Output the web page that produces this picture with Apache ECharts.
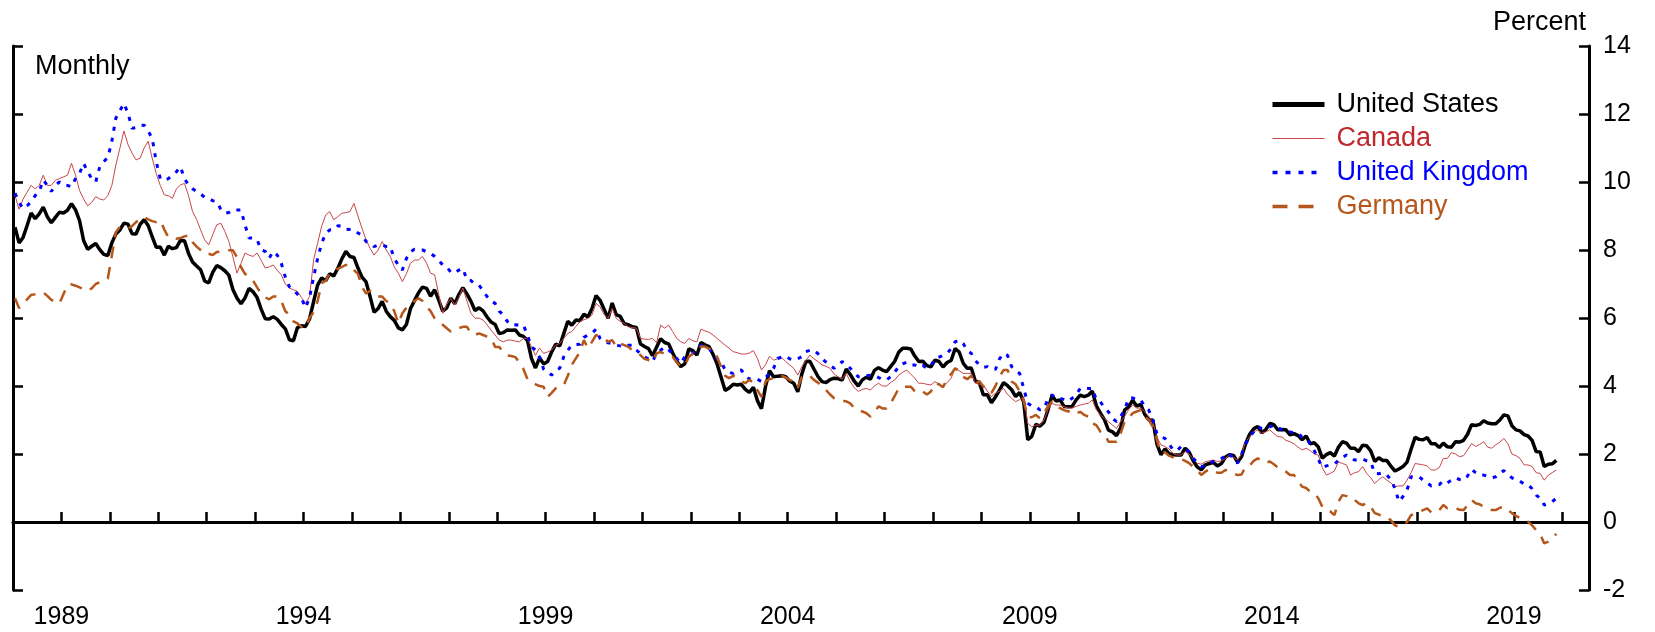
<!DOCTYPE html>
<html>
<head>
<meta charset="utf-8">
<script src="https://cdn.jsdelivr.net/npm/echarts@6/dist/echarts.min.js"></script>
<style>
  html, body { margin: 0; padding: 0; background: #fff; }
  #chart { width: 1655px; height: 632px; }
</style>
</head>
<body>
<div id="chart"></div>
<script>
// Monthly series, Jan 1988 .. Nov 2019
const startYear = 1988;
const yearLabels = [1989, 1994, 1999, 2004, 2009, 2014, 2019];
const yTicks = [-2, 0, 2, 4, 6, 8, 10, 12, 14];

const us = [
  8.67, 8.21, 8.37, 8.72, 9.09, 8.92, 9.06, 9.26, 8.98, 8.80, 8.96, 9.11,
  9.09, 9.17, 9.36, 9.18, 8.86, 8.28, 8.02, 8.11, 8.19, 8.01, 7.87, 7.84,
  8.21, 8.47, 8.59, 8.79, 8.76, 8.48, 8.47, 8.75, 8.89, 8.72, 8.39, 8.08,
  8.09, 7.85, 8.11, 8.04, 8.07, 8.28, 8.27, 7.90, 7.65, 7.53, 7.42, 7.09,
  7.03, 7.34, 7.54, 7.48, 7.39, 7.26, 6.84, 6.59, 6.42, 6.59, 6.87, 6.77,
  6.60, 6.26, 5.98, 5.97, 6.04, 5.96, 5.81, 5.68, 5.36, 5.33, 5.72, 5.77,
  5.75, 5.97, 6.48, 6.97, 7.18, 7.10, 7.30, 7.24, 7.46, 7.74, 7.96, 7.81,
  7.78, 7.47, 7.20, 7.06, 6.63, 6.17, 6.28, 6.49, 6.20, 6.04, 5.93, 5.71,
  5.65, 5.81, 6.27, 6.51, 6.74, 6.91, 6.87, 6.64, 6.83, 6.53, 6.20, 6.30,
  6.58, 6.42, 6.69, 6.89, 6.71, 6.49, 6.22, 6.30, 6.21, 6.03, 5.88, 5.81,
  5.54, 5.57, 5.65, 5.64, 5.65, 5.50, 5.46, 5.34, 4.81, 4.53, 4.83, 4.65,
  4.72, 5.00, 5.23, 5.18, 5.54, 5.90, 5.79, 5.94, 5.92, 6.11, 6.03, 6.28,
  6.66, 6.52, 6.26, 5.99, 6.44, 6.10, 6.05, 5.83, 5.80, 5.74, 5.72, 5.24,
  5.16, 5.10, 4.89, 5.14, 5.39, 5.28, 5.24, 4.97, 4.73, 4.57, 4.65, 5.09,
  5.04, 4.91, 5.28, 5.21, 5.16, 4.93, 4.65, 4.26, 3.87, 3.94, 4.05, 4.03,
  4.05, 3.90, 3.81, 3.96, 3.57, 3.33, 3.98, 4.45, 4.27, 4.29, 4.30, 4.27,
  4.15, 4.08, 3.83, 4.35, 4.72, 4.73, 4.50, 4.28, 4.13, 4.10, 4.19, 4.23,
  4.22, 4.17, 4.50, 4.34, 4.14, 4.00, 4.18, 4.26, 4.20, 4.46, 4.54, 4.47,
  4.42, 4.57, 4.72, 4.99, 5.11, 5.11, 5.09, 4.88, 4.72, 4.73, 4.60, 4.56,
  4.76, 4.72, 4.56, 4.69, 4.75, 5.10, 5.00, 4.67, 4.52, 4.53, 4.15, 4.10,
  3.74, 3.74, 3.51, 3.68, 3.88, 4.10, 4.01, 3.89, 3.69, 3.81, 3.53, 2.42,
  2.52, 2.87, 2.82, 2.93, 3.29, 3.72, 3.56, 3.59, 3.40, 3.39, 3.40, 3.59,
  3.73, 3.69, 3.73, 3.85, 3.42, 3.20, 3.01, 2.70, 2.65, 2.54, 2.76, 3.29,
  3.39, 3.58, 3.41, 3.46, 3.17, 3.00, 3.00, 2.30, 1.98, 2.15, 2.01, 1.98,
  1.97, 1.97, 2.17, 2.05, 1.80, 1.62, 1.53, 1.68, 1.72, 1.75, 1.65, 1.72,
  1.91, 1.98, 1.96, 1.76, 1.93, 2.30, 2.58, 2.74, 2.81, 2.62, 2.72, 2.90,
  2.86, 2.71, 2.72, 2.71, 2.56, 2.60, 2.54, 2.42, 2.53, 2.30, 2.33, 2.21,
  1.88, 1.98, 2.04, 1.94, 2.20, 2.36, 2.32, 2.17, 2.17, 2.07, 2.26, 2.24,
  2.09, 1.78, 1.89, 1.81, 1.81, 1.64, 1.50, 1.56, 1.63, 1.76, 2.14, 2.49,
  2.43, 2.42, 2.48, 2.30, 2.30, 2.19, 2.32, 2.21, 2.20, 2.36, 2.35, 2.40,
  2.58, 2.86, 2.84, 2.87, 2.98, 2.91, 2.89, 2.89, 3.00, 3.15, 3.12, 2.83,
  2.71, 2.68, 2.57, 2.53, 2.40, 2.07, 2.06, 1.63, 1.70, 1.71, 1.81
];

const canada = [
  9.60, 9.20, 9.50, 9.70, 9.90, 9.80, 9.90, 10.20, 9.90, 9.90, 10.05, 10.10,
  10.15, 10.20, 10.55, 10.20, 9.75, 9.50, 9.30, 9.40, 9.57, 9.50, 9.47, 9.60,
  9.90, 10.50, 11.00, 11.50, 11.10, 10.85, 10.65, 10.70, 11.00, 11.20, 10.70, 10.25,
  9.90, 9.62, 9.60, 9.52, 9.80, 9.91, 9.96, 9.60, 9.13, 8.90, 8.59, 8.30,
  8.15, 8.45, 8.74, 8.79, 8.55, 8.25, 7.80, 7.32, 7.60, 7.91, 7.85, 7.81,
  7.91, 7.70, 7.47, 7.50, 7.56, 7.40, 7.27, 7.00, 6.88, 6.83, 6.78, 6.60,
  6.43, 6.63, 7.71, 8.20, 8.70, 9.03, 9.13, 8.89, 8.98, 9.08, 9.10, 9.13,
  9.37, 9.00, 8.64, 8.30, 8.05, 7.85, 8.00, 8.25, 8.00, 7.81, 7.50, 7.32,
  7.07, 7.30, 7.61, 7.70, 7.71, 7.81, 7.61, 7.32, 7.27, 6.70, 6.14, 6.40,
  6.58, 6.38, 6.60, 6.88, 6.50, 6.14, 5.99, 6.00, 5.94, 5.80, 5.64, 5.50,
  5.35, 5.30, 5.35, 5.35, 5.32, 5.30, 5.40, 5.40, 5.15, 4.90, 5.12, 4.96,
  5.00, 5.06, 5.20, 5.25, 5.40, 5.55, 5.60, 5.75, 5.89, 5.95, 5.99, 6.09,
  6.43, 6.33, 6.10, 5.99, 6.28, 5.99, 5.90, 5.84, 5.74, 5.72, 5.70, 5.40,
  5.38, 5.37, 5.40, 5.27, 5.79, 5.70, 5.79, 5.60, 5.40, 5.30, 5.25, 5.40,
  5.33, 5.30, 5.67, 5.62, 5.58, 5.50, 5.40, 5.30, 5.20, 5.11, 5.01, 4.98,
  4.94, 4.94, 4.97, 5.04, 4.81, 4.47, 4.62, 4.88, 4.76, 4.80, 4.84, 4.72,
  4.62, 4.52, 4.32, 4.57, 4.75, 4.91, 4.80, 4.72, 4.62, 4.58, 4.52, 4.35,
  4.27, 4.20, 4.37, 4.13, 3.95, 3.84, 3.90, 3.93, 3.88, 4.00, 4.08, 4.00,
  4.00, 4.10, 4.18, 4.32, 4.40, 4.47, 4.35, 4.23, 4.08, 4.08, 4.05, 4.03,
  4.13, 4.05, 3.98, 4.10, 4.23, 4.52, 4.45, 4.37, 4.37, 4.37, 4.08, 4.05,
  4.03, 3.85, 3.69, 3.79, 3.85, 3.93, 3.75, 3.64, 3.54, 3.60, 3.69, 2.90,
  2.80, 2.85, 2.85, 3.00, 3.30, 3.49, 3.44, 3.44, 3.39, 3.35, 3.35, 3.40,
  3.44, 3.47, 3.49, 3.59, 3.30, 3.15, 3.05, 2.95, 2.85, 2.75, 2.95, 3.10,
  3.30, 3.44, 3.35, 3.35, 3.24, 3.10, 2.95, 2.50, 2.27, 2.22, 2.15, 2.02,
  1.97, 1.97, 2.07, 2.00, 1.85, 1.73, 1.70, 1.77, 1.80, 1.82, 1.78, 1.80,
  1.87, 1.97, 1.90, 1.82, 2.00, 2.36, 2.50, 2.66, 2.70, 2.61, 2.65, 2.71,
  2.60, 2.51, 2.50, 2.40, 2.36, 2.30, 2.20, 2.12, 2.17, 2.10, 2.00, 1.97,
  1.60, 1.38, 1.43, 1.50, 1.77, 1.72, 1.68, 1.38, 1.45, 1.48, 1.63, 1.43,
  1.30, 1.13, 1.25, 1.33, 1.23, 1.15, 1.04, 1.06, 1.06, 1.23, 1.45, 1.72,
  1.70, 1.68, 1.65, 1.53, 1.53, 1.60, 1.87, 1.87, 2.04, 2.00, 1.92, 1.95,
  2.12, 2.31, 2.22, 2.28, 2.36, 2.20, 2.17, 2.27, 2.35, 2.46, 2.30, 2.00,
  1.95, 1.87, 1.68, 1.68, 1.63, 1.45, 1.43, 1.23, 1.38, 1.45, 1.53
];

const uk = [
  9.67, 9.40, 9.22, 9.30, 9.42, 9.60, 9.72, 10.06, 9.90, 9.72, 9.90, 10.00,
  9.91, 9.90, 9.86, 10.10, 10.25, 10.55, 10.30, 10.10, 10.00, 10.45, 10.60, 10.72,
  11.20, 11.88, 12.10, 12.31, 12.02, 11.58, 11.60, 11.67, 11.67, 11.50, 11.28, 10.60,
  10.10, 10.05, 10.10, 10.20, 10.30, 10.45, 10.10, 9.91, 9.80, 9.72, 9.65, 9.55,
  9.52, 9.45, 9.42, 9.20, 9.08, 9.10, 9.18, 9.18, 9.18, 8.74, 8.35, 8.35,
  8.30, 8.00, 7.96, 7.76, 7.96, 7.85, 7.61, 7.20, 6.92, 6.83, 6.70, 6.58,
  6.30, 6.60, 7.20, 7.75, 8.20, 8.49, 8.59, 8.60, 8.71, 8.70, 8.61, 8.60,
  8.59, 8.50, 8.44, 8.25, 8.20, 8.10, 8.15, 8.15, 8.10, 8.10, 7.75, 7.55,
  7.41, 7.75, 7.95, 8.02, 8.00, 8.00, 7.95, 7.90, 7.81, 7.70, 7.56, 7.50,
  7.35, 7.32, 7.41, 7.46, 7.12, 7.10, 7.00, 6.97, 6.80, 6.63, 6.50, 6.43,
  6.20, 6.09, 5.90, 5.79, 5.80, 5.79, 5.79, 5.50, 5.15, 5.06, 4.85, 4.50,
  4.40, 4.32, 4.45, 4.52, 4.86, 5.05, 5.20, 5.22, 5.23, 5.43, 5.50, 5.55,
  5.67, 5.40, 5.30, 5.27, 5.25, 5.20, 5.18, 5.15, 5.20, 5.20, 5.06, 4.95,
  4.86, 4.80, 4.72, 4.96, 5.05, 5.15, 5.06, 4.95, 4.81, 4.67, 4.86, 4.90,
  4.96, 5.05, 5.20, 5.15, 5.10, 4.96, 4.80, 4.72, 4.47, 4.40, 4.37, 4.45,
  4.47, 4.32, 4.20, 4.23, 4.20, 4.13, 4.25, 4.37, 4.52, 4.81, 4.85, 4.88,
  4.80, 4.76, 4.80, 4.86, 5.01, 5.05, 5.06, 4.95, 4.81, 4.70, 4.60, 4.52,
  4.60, 4.72, 4.65, 4.52, 4.40, 4.27, 4.27, 4.30, 4.32, 4.30, 4.25, 4.18,
  4.18, 4.27, 4.40, 4.57, 4.65, 4.70, 4.62, 4.62, 4.55, 4.60, 4.52, 4.60,
  4.81, 4.85, 4.90, 4.96, 5.10, 5.30, 5.35, 5.25, 5.05, 4.96, 4.75, 4.62,
  4.55, 4.57, 4.50, 4.49, 4.80, 4.96, 4.90, 4.57, 4.45, 4.37, 3.93, 3.49,
  3.41, 3.39, 3.30, 3.34, 3.60, 3.74, 3.64, 3.64, 3.60, 3.55, 3.64, 3.75,
  3.93, 3.95, 3.93, 3.93, 3.60, 3.54, 3.35, 3.24, 3.05, 2.95, 3.10, 3.29,
  3.64, 3.65, 3.60, 3.59, 3.40, 3.29, 3.00, 2.61, 2.50, 2.46, 2.30, 2.12,
  2.10, 2.22, 2.20, 2.05, 1.87, 1.75, 1.63, 1.65, 1.73, 1.78, 1.80, 1.87,
  1.95, 2.02, 1.85, 1.73, 2.00, 2.30, 2.51, 2.65, 2.80, 2.75, 2.75, 2.80,
  2.85, 2.78, 2.71, 2.68, 2.65, 2.62, 2.61, 2.50, 2.46, 2.30, 2.10, 1.85,
  1.60, 1.65, 1.68, 1.70, 1.82, 1.90, 1.97, 1.90, 1.82, 1.82, 1.85, 1.80,
  1.77, 1.43, 1.42, 1.45, 1.38, 1.25, 0.99, 0.60, 0.75, 0.94, 1.33, 1.33,
  1.33, 1.23, 1.15, 1.06, 1.08, 1.10, 1.21, 1.15, 1.23, 1.30, 1.25, 1.23,
  1.35, 1.55, 1.45, 1.38, 1.38, 1.35, 1.30, 1.33, 1.45, 1.51, 1.40, 1.30,
  1.25, 1.20, 1.12, 1.10, 0.98, 0.79, 0.70, 0.50, 0.55, 0.60, 0.70
];

const germany = [
  6.58, 6.29, 6.40, 6.55, 6.68, 6.70, 6.73, 6.75, 6.65, 6.53, 6.50, 6.43,
  6.70, 6.97, 6.99, 6.95, 6.90, 6.85, 6.80, 6.87, 7.00, 7.05, 7.10, 7.16,
  7.84, 8.53, 8.68, 8.65, 8.63, 8.70, 8.82, 8.90, 8.97, 8.90, 8.85, 8.82,
  8.87, 8.60, 8.38, 8.35, 8.33, 8.35, 8.40, 8.43, 8.23, 8.10, 8.00, 7.89,
  7.89, 7.85, 7.94, 7.95, 7.97, 7.99, 7.99, 7.79, 7.50, 7.30, 7.20, 7.10,
  6.90, 6.71, 6.61, 6.55, 6.63, 6.63, 6.50, 6.20, 6.10, 5.90, 5.84, 5.74,
  5.70, 6.00, 6.18, 6.50, 7.02, 7.10, 7.31, 7.35, 7.45, 7.50, 7.56, 7.56,
  7.41, 7.30, 6.92, 6.72, 6.80, 6.70, 6.63, 6.63, 6.50, 6.43, 6.20, 5.84,
  6.14, 6.30, 6.38, 6.50, 6.58, 6.50, 6.33, 6.20, 5.99, 5.90, 5.80, 5.70,
  5.60, 5.62, 5.70, 5.74, 5.74, 5.55, 5.50, 5.55, 5.50, 5.45, 5.40, 5.15,
  5.15, 5.00, 4.90, 4.88, 4.85, 4.70, 4.50, 4.20, 4.10, 4.05, 4.00, 3.98,
  3.68, 3.80, 3.93, 4.00, 4.03, 4.30, 4.62, 4.81, 5.00, 5.35, 5.11, 5.30,
  5.50, 5.45, 5.40, 5.30, 5.35, 5.16, 5.25, 5.20, 5.15, 5.05, 5.00, 4.91,
  4.80, 4.76, 4.70, 4.96, 5.00, 4.95, 4.90, 4.86, 4.70, 4.57, 4.60, 4.86,
  4.95, 5.00, 5.16, 5.16, 5.10, 5.06, 4.85, 4.57, 4.30, 4.23, 4.30, 4.23,
  4.15, 4.08, 4.18, 4.10, 3.88, 3.68, 4.13, 4.20, 4.23, 4.23, 4.30, 4.25,
  4.18, 4.13, 3.95, 4.27, 4.32, 4.30, 4.18, 4.10, 4.00, 3.88, 3.75, 3.64,
  3.59, 3.56, 3.55, 3.49, 3.35, 3.29, 3.25, 3.20, 3.10, 3.22, 3.40, 3.34,
  3.34, 3.49, 3.70, 3.93, 3.98, 3.98, 3.98, 3.85, 3.79, 3.84, 3.75, 3.84,
  4.08, 4.05, 3.96, 4.23, 4.35, 4.52, 4.45, 4.27, 4.20, 4.30, 4.05, 4.15,
  3.98, 3.95, 3.80, 4.00, 4.27, 4.47, 4.47, 4.13, 4.05, 3.84, 3.55, 3.10,
  3.08, 3.15, 3.05, 3.20, 3.40, 3.54, 3.39, 3.35, 3.29, 3.25, 3.29, 3.20,
  3.24, 3.15, 3.10, 2.90, 2.85, 2.66, 2.60, 2.36, 2.36, 2.36, 2.60, 2.95,
  3.05, 3.20, 3.25, 3.29, 3.10, 3.00, 2.80, 2.41, 2.02, 2.05, 1.95, 1.90,
  1.85, 1.85, 1.80, 1.73, 1.63, 1.53, 1.38, 1.48, 1.55, 1.50, 1.45, 1.45,
  1.53, 1.50, 1.43, 1.38, 1.40, 1.63, 1.65, 1.80, 1.87, 1.80, 1.73, 1.78,
  1.70, 1.60, 1.55, 1.48, 1.38, 1.38, 1.20, 1.04, 1.00, 0.89, 0.85, 0.70,
  0.45, 0.35, 0.31, 0.20, 0.60, 0.79, 0.76, 0.65, 0.65, 0.55, 0.50, 0.55,
  0.45, 0.26, 0.22, 0.16, 0.15, 0.05, -0.10, -0.14, -0.10, 0.00, 0.20, 0.25,
  0.30, 0.35, 0.40, 0.28, 0.35, 0.35, 0.50, 0.40, 0.40, 0.42, 0.36, 0.35,
  0.50, 0.65, 0.55, 0.52, 0.45, 0.40, 0.35, 0.35, 0.42, 0.45, 0.36, 0.26,
  0.18, 0.12, 0.05, 0.01, -0.10, -0.24, -0.35, -0.63, -0.58, -0.48, -0.35
];

const FONT = "'Liberation Sans', Arial, Helvetica, sans-serif";

function toPoints(values) {
  return values.map((v, i) => [startYear + (i + 0.5) / 12, v]);
}

const chart = echarts.init(document.getElementById("chart"), null, { renderer: "canvas" });

const axisLineStyle = { color: "#000", width: 3 };

chart.setOption({
  backgroundColor: "#fff",
  animation: false,
  textStyle: { fontFamily: FONT },
  grid: { left: 13, right: 66, top: 46, bottom: 42 },
  legend: {
    orient: "vertical",
    left: 1265,
    top: 86,
    itemWidth: 52,
    itemHeight: 14,
    itemGap: 7,
    selectedMode: false,
    itemStyle: { opacity: 0 },
    textStyle: { fontSize: 27, fontFamily: FONT, padding: [0, 0, 0, 7] },
    data: [
      { name: "United States", textStyle: { color: "#000" }, lineStyle: { width: 5 } },
      { name: "Canada", textStyle: { color: "#c0272d" }, lineStyle: { width: 1.2 } },
      { name: "United Kingdom", textStyle: { color: "#0000ff" }, lineStyle: { width: 3.5, type: [5, 8] } },
      { name: "Germany", textStyle: { color: "#b5561a" }, lineStyle: { width: 3.5, type: [15, 11] } },
    ],
  },
  graphic: [
    {
      type: "text",
      left: 35,
      top: 53,
      style: { text: "Monthly", fill: "#000", font: `27px ${FONT}` },
    },
    {
      type: "text",
      right: 69,
      top: 9,
      style: { text: "Percent", fill: "#000", font: `27px ${FONT}` },
    },
  ],
  xAxis: {
    type: "value",
    min: 1988,
    max: 2020.55,
    interval: 1,
    axisLine: { lineStyle: axisLineStyle },
    axisTick: { inside: true, length: 10, lineStyle: { color: "#000", width: 2.5 } },
    splitLine: { show: false },
    axisLabel: {
      color: "#000",
      fontSize: 25,
      fontFamily: FONT,
      margin: 15,
      formatter: (v) => (yearLabels.includes(v) ? String(v) : ""),
    },
  },
  yAxis: [
    {
      type: "value",
      position: "left",
      min: -2,
      max: 14,
      interval: 2,
      axisLine: { show: true, lineStyle: axisLineStyle },
      axisTick: { show: true, inside: true, length: 10, lineStyle: { color: "#000", width: 2.5 } },
      axisLabel: { show: false },
      splitLine: { show: false },
    },
    {
      type: "value",
      position: "right",
      min: -2,
      max: 14,
      interval: 2,
      axisLine: { show: true, lineStyle: axisLineStyle },
      axisTick: { show: true, inside: true, length: 10, lineStyle: { color: "#000", width: 2.5 } },
      axisLabel: {
        color: "#000",
        fontSize: 25,
        fontFamily: FONT,
        margin: 14,
        formatter: (v) => (yTicks.includes(v) ? String(v) : ""),
      },
      splitLine: { show: false },
    },
  ],
  series: [
    {
      name: "United States",
      type: "line",
      symbol: "none",
      data: toPoints(us),
      lineStyle: { color: "#000", width: 3.5 },
      itemStyle: { color: "#000" },
      z: 3,
      markLine: {
        silent: true,
        symbol: "none",
        label: { show: false },
        lineStyle: { color: "#000", width: 3, type: "solid" },
        data: [{ yAxis: 0 }],
      },
    },
    {
      name: "Canada",
      type: "line",
      symbol: "none",
      data: toPoints(canada),
      lineStyle: { color: "#c8474c", width: 1 },
      itemStyle: { color: "#c8474c" },
      z: 4,
    },
    {
      name: "United Kingdom",
      type: "line",
      symbol: "none",
      data: toPoints(uk),
      lineStyle: { color: "#0000ff", width: 3, type: [4, 7] },
      itemStyle: { color: "#0000ff" },
      z: 5,
    },
    {
      name: "Germany",
      type: "line",
      symbol: "none",
      data: toPoints(germany),
      lineStyle: { color: "#b5561a", width: 2.5, type: [12, 9] },
      itemStyle: { color: "#b5561a" },
      z: 6,
    },
  ],
});
</script>
</body>
</html>
